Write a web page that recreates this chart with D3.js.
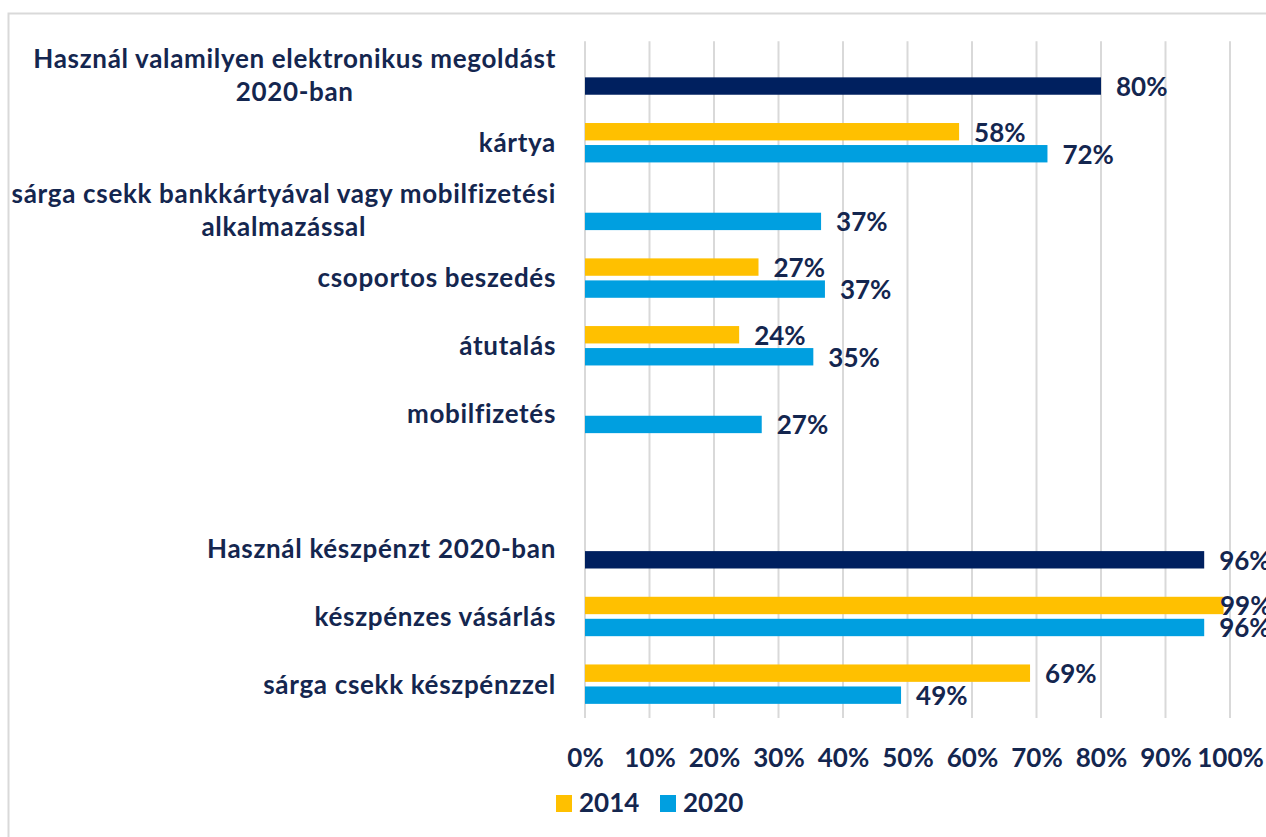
<!DOCTYPE html>
<html><head><meta charset="utf-8">
<script src="https://cdn.jsdelivr.net/npm/d3@7"></script>
<style>
html,body{margin:0;padding:0;background:#fff;}
svg text{font-family:Lato,"Open Sans",sans-serif;font-weight:700;fill:#14264f;}
</style></head>
<body>
<svg id="chart" width="1266" height="837"></svg>
<script>
const categories = [
  ["Használ valamilyen elektronikus megoldást","2020-ban"],
  ["kártya"],
  ["sárga csekk bankkártyával vagy mobilfizetési","alkalmazással"],
  ["csoportos beszedés"],
  ["átutalás"],
  ["mobilfizetés"],
  [""],
  ["Használ készpénzt 2020-ban"],
  ["készpénzes vásárlás"],
  ["sárga csekk készpénzzel"]
];
const values2014 = [null, 58, null, 26.9, 23.9, null, null, null, 99, 69];
const values2020 = [80, 71.7, 36.6, 37.2, 35.4, 27.4, null, 96, 96, 49];
const totalRows = [true, false, false, false, false, false, false, true, false, false];
const tickValues = [0,10,20,30,40,50,60,70,80,90,100];
const seriesNames = ["2014","2020"];
const colors = {"2014":"#FFC000","2020":"#009FE0",total:"#00205F"};

const svg = d3.select("#chart");
svg.append("path").attr("d","M8.5,837 V13.5 H1266").attr("fill","none").attr("stroke","#d9d9d9").attr("stroke-width",2);

const pLeft = 585, pRight = 1230, pTop = 41.2, pBottom = 718;
const x = d3.scaleLinear().domain([0,100]).range([pLeft,pRight]);
const y = d3.scaleBand().domain(d3.range(categories.length)).range([pTop,pBottom]).paddingInner(0).paddingOuter(0);
const sub = d3.scaleBand().domain(seriesNames).range([-19.7, 19.7]).paddingInner(0.21).paddingOuter(0.0);

svg.append("g").selectAll("line").data(tickValues).join("line")
  .attr("x1",d=>x(d)).attr("x2",d=>x(d)).attr("y1",pTop).attr("y2",pBottom)
  .attr("stroke","#d9d9d9").attr("stroke-width",2);

const fs = 26;
const axis = d3.axisBottom(x).tickValues(tickValues).tickFormat(d=>d+"%").tickSize(0).tickPadding(0);
const ax = svg.append("g").attr("transform",`translate(0,767)`).call(axis);
ax.select(".domain").remove();
ax.attr("font-family",null).attr("font-size",null);
ax.selectAll("text").attr("dy",0).attr("y",0).style("font-size",fs+"px").attr("fill","#14264f");

const rows = d3.range(categories.length).map(i=>({i, v14:values2014[i], v20:values2020[i], total:totalRows[i]}));
function addBar(i, v, s, color){
  if(v==null) return;
  const cy = y(i) + y.bandwidth()/2 + sub(s) + sub.bandwidth()/2;
  svg.append("rect").attr("x",x(0)).attr("y",cy - sub.bandwidth()/2)
    .attr("width",x(v)-x(0)).attr("height",sub.bandwidth()).attr("fill",color);
  svg.append("text").attr("x",Math.min(x(v)+15, 1220)).attr("y",cy).attr("dy","0.38em")
    .style("font-size",fs+"px").text(Math.round(v)+"%");
}
rows.forEach(r=>{
  addBar(r.i, r.v14, "2014", colors["2014"]);
  addBar(r.i, r.v20, "2020", r.total ? colors.total : colors["2020"]);
});

const labelRight = 556;
categories.forEach((lines,i)=>{
  const cy = y(i)+y.bandwidth()/2;
  const lh = 33.4;
  const g = svg.append("g");
  const texts = lines.map((ln,k)=> g.append("text")
      .attr("y", cy + (k-(lines.length-1)/2)*lh).attr("dy","0.36em")
      .style("font-size",fs+"px").style("letter-spacing","0.68px").text(ln));
  if(lines.length>1){
    const widths = texts.map(t=>t.node().getComputedTextLength());
    const w = d3.max(widths);
    const cx = labelRight - w/2;
    texts.forEach(t=>t.attr("x",cx).attr("text-anchor","middle"));
  } else {
    texts.forEach(t=>t.attr("x",labelRight).attr("text-anchor","end"));
  }
});

const lg = svg.append("g").attr("transform","translate(556,795)");
seriesNames.forEach((s,k)=>{
  const gx = k*104;
  lg.append("rect").attr("x",gx).attr("y",0).attr("width",16).attr("height",17).attr("fill",colors[s]);
  lg.append("text").attr("x",gx+23).attr("y",17).style("font-size",fs+"px").text(s);
});
</script>
</body></html>
